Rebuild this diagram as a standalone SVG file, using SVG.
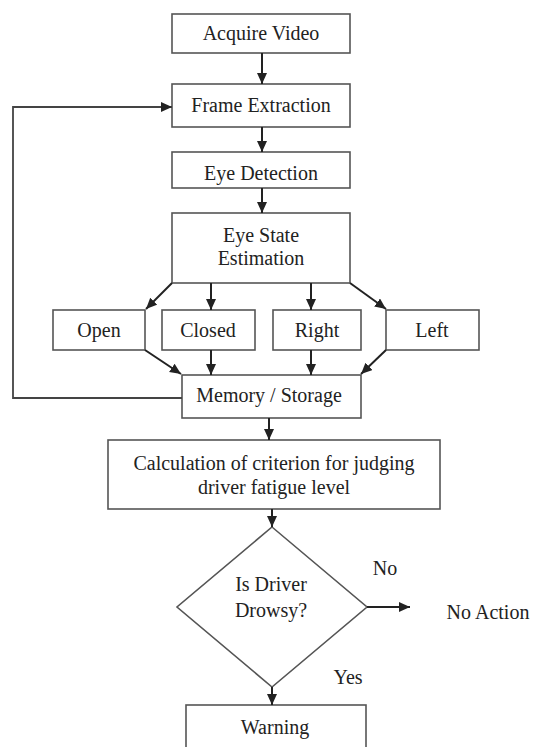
<svg xmlns="http://www.w3.org/2000/svg" width="533" height="747" viewBox="0 0 533 747">
<style>
.box{fill:#fff;stroke:#555;stroke-width:1.6}
.t{font-family:"Liberation Serif","Times New Roman",serif;font-size:20px;fill:#222;text-anchor:middle}
.c{fill:none;stroke:#222;stroke-width:2}
</style>
<defs>
<marker id="ah" markerUnits="userSpaceOnUse" markerWidth="13" markerHeight="12" refX="11" refY="5" orient="auto">
<path d="M0,0 L11,5 L0,10 z" fill="#222"/>
</marker>
</defs>
<rect width="533" height="747" fill="#fff"/>
<g id="acquire"><rect class="box" x="172" y="14" width="178" height="39"/><text class="t" x="261" y="40">Acquire Video</text></g>
<g id="frame"><rect class="box" x="172" y="84" width="178" height="43"/><text class="t" x="261" y="112">Frame Extraction</text></g>
<g id="eyedet"><rect class="box" x="172" y="152" width="178" height="36"/><text class="t" x="261" y="180">Eye Detection</text></g>
<g id="eyestate"><rect class="box" x="172" y="213" width="178" height="70"/><text class="t" x="261" y="242">Eye State</text><text class="t" x="261" y="265">Estimation</text></g>
<g id="open"><rect class="box" x="53" y="310" width="92" height="40"/><text class="t" x="99" y="337">Open</text></g>
<g id="closed"><rect class="box" x="162" y="310" width="93" height="40"/><text class="t" x="208" y="337">Closed</text></g>
<g id="right"><rect class="box" x="273" y="310" width="88" height="40"/><text class="t" x="317" y="337">Right</text></g>
<g id="left"><rect class="box" x="386" y="310" width="93" height="40"/><text class="t" x="432" y="337">Left</text></g>
<g id="memory"><rect class="box" x="182" y="375" width="179" height="43"/><text class="t" x="269" y="402">Memory / Storage</text></g>
<g id="calc"><rect class="box" x="108" y="440" width="332" height="69"/><text class="t" x="274" y="470">Calculation of criterion for judging</text><text class="t" x="274" y="494">driver fatigue level</text></g>
<g id="drowsy"><polygon class="box" points="272,527 367,607 272,687 177,607"/><text class="t" x="271" y="591">Is Driver</text><text class="t" x="271" y="617">Drowsy?</text></g>
<g id="noaction"><text class="t" x="488" y="619">No Action</text></g>
<g id="warning"><rect class="box" x="186" y="705" width="180" height="60"/><text class="t" x="275" y="734">Warning</text></g>
<g id="connectors">
<line class="c" x1="262" y1="53" x2="262" y2="84" marker-end="url(#ah)"/>
<line class="c" x1="262" y1="127" x2="262" y2="152" marker-end="url(#ah)"/>
<line class="c" x1="262" y1="188" x2="262" y2="213" marker-end="url(#ah)"/>
<line class="c" x1="172" y1="283" x2="146" y2="309" marker-end="url(#ah)"/>
<line class="c" x1="211" y1="283" x2="211" y2="310" marker-end="url(#ah)"/>
<line class="c" x1="311" y1="283" x2="311" y2="310" marker-end="url(#ah)"/>
<line class="c" x1="350" y1="283" x2="386" y2="309" marker-end="url(#ah)"/>
<line class="c" x1="145" y1="350" x2="181" y2="374" marker-end="url(#ah)"/>
<line class="c" x1="211" y1="350" x2="211" y2="375" marker-end="url(#ah)"/>
<line class="c" x1="311" y1="350" x2="311" y2="375" marker-end="url(#ah)"/>
<line class="c" x1="386" y1="350" x2="361" y2="374" marker-end="url(#ah)"/>
<polyline class="c" points="182,398 13,398 13,107 172,107" marker-end="url(#ah)" style="stroke:#444;stroke-width:1.8"/>
<line class="c" x1="269" y1="418" x2="269" y2="440" marker-end="url(#ah)"/>
<line class="c" x1="272" y1="509" x2="272" y2="527" marker-end="url(#ah)"/>
<line class="c" x1="367" y1="607" x2="410" y2="607" marker-end="url(#ah)"/>
<line class="c" x1="272" y1="687" x2="272" y2="705" marker-end="url(#ah)"/>
<text class="t" x="385" y="575">No</text>
<text class="t" x="348" y="684">Yes</text>
</g>
</svg>
